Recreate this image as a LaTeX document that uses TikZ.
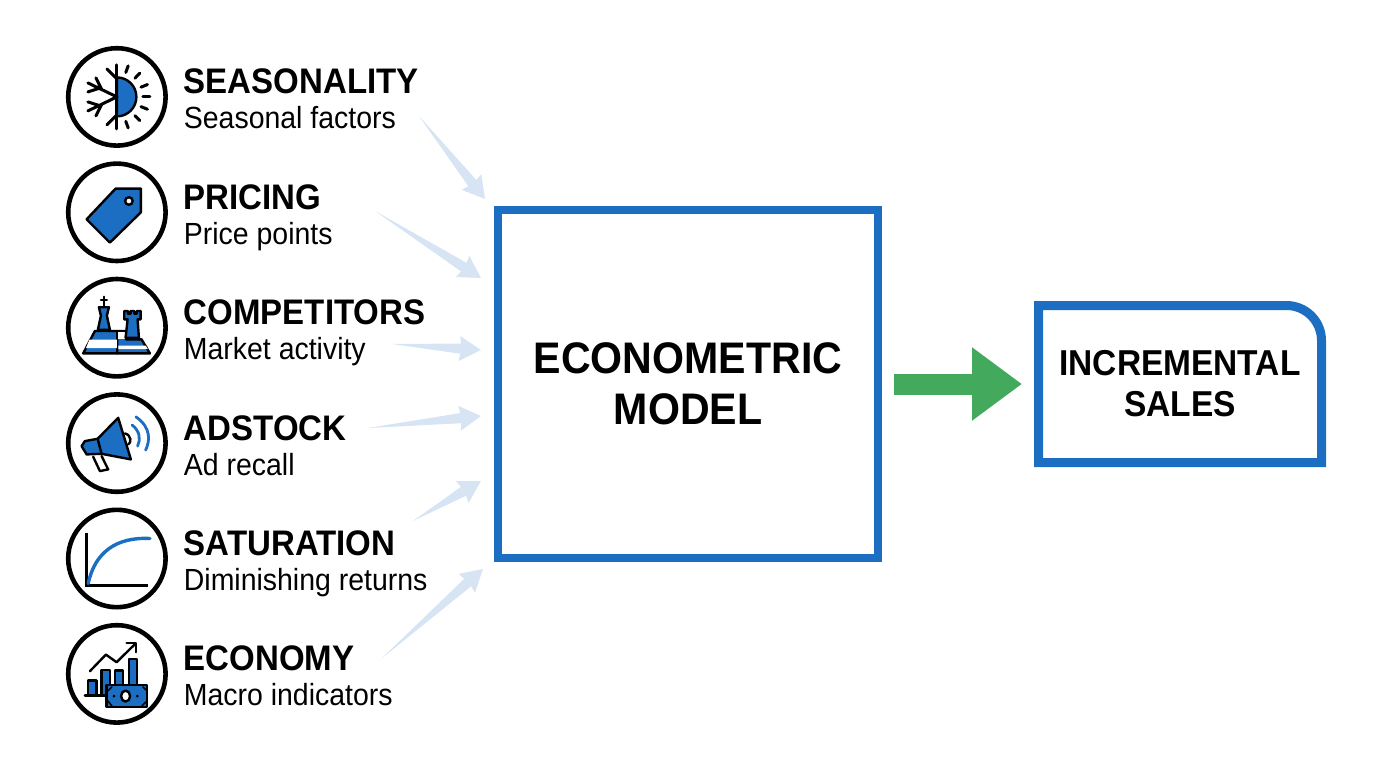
\documentclass[tikz,border=0pt]{standalone}
\usepackage{fontspec}
\setmainfont{Liberation Sans}[FakeStretch=0.93]
\usetikzlibrary{positioning}
\usetikzlibrary{calc}
\usetikzlibrary{arrows.meta}

\definecolor{modelblue}{HTML}{1B6EC2}
\definecolor{feedblue}{HTML}{D6E4F3}
\definecolor{salesgreen}{HTML}{43A95D}

\newcommand{\factorlabel}[2]{{\fontsize{35.5}{35}\selectfont\bfseries #1}\\#2}

\tikzset{
  ink/.style={draw=black,line width=2.4pt,line join=round,line cap=round},
  heavy/.style={ink,line width=3pt},
  paint/.style={ink,fill=modelblue},
  blank/.style={ink,fill=white},
  wave/.style={draw=modelblue,line width=2.8pt,line cap=round}
}

\newcommand{\iconseason}{
  \draw[paint] (0,-19.5) arc[start angle=-90,end angle=90,radius=19.5] -- cycle;
  \draw[heavy] (0,-32) -- (0,32);
  \foreach \a in {-70,-46,-22,0,22,46,70}
    \draw[heavy] (\a:26) -- (\a:33);
  \draw[heavy] (0,0) -- (-29,-14) (-18,-8.5) -- (-29,-5) (-15,-7) -- (-21,-19);
  \draw[heavy] (0,0) -- (-29,14) (-18,8.5) -- (-29,5) (-15,7) -- (-21,19);
  \draw[heavy] (-10,-28) -- (0,-18) (-10,28) -- (0,18);
}
\newcommand{\icontag}{
  \draw[paint] (-1.3,-23.7) -- (24,-23.7) -- (24,0) -- (-7,30.3) -- (-30.3,7) -- cycle;
  \draw[blank] (12,-11.3) circle (3.8);
}
\newcommand{\iconchess}{
  \draw[paint] (-22,3.3) -- (0.3,3.3) -- (0.3,25.7) -- (-33.7,25.7) -- cycle;
  \draw[paint] (0.3,3.3) -- (9,3.3) -- (9,11.7) -- (24.7,11.7) -- (33,25.7) -- (0.3,25.7) -- cycle;
  \fill[white] (-27.5,12) -- (0,12) -- (0,20.5) -- (-31,20.5) -- cycle;
  \fill[white] (1.5,18) -- (28.8,18) -- (31,21.5) -- (1.5,21.5) -- cycle;
  \fill[white] (1.5,4.5) -- (8,4.5) -- (8,11) -- (1.5,11) -- cycle;
  \draw[paint] (-18,-20.5) -- (-8,-20.5) -- (-10,-12) -- (-7,2) -- (-19,2) -- (-16,-12) -- cycle;
  \draw[ink] (-13,-31) -- (-13,-21) (-16,-28) -- (-10,-28);
  \draw[paint] (7.3,-16.7) -- (11,-16.7) -- (11,-14) -- (13.7,-14) -- (13.7,-16.7) -- (17.3,-16.7)
    -- (17.3,-14) -- (20,-14) -- (20,-16.7) -- (23.7,-16.7) -- (23.7,-8.3) -- (20.7,-8.3)
    -- (22,10) -- (8.7,10) -- (10.7,-8.3) -- (7.3,-8.3) -- cycle;
}
\newcommand{\iconhorn}{
  \draw[blank] (-23.7,13.7) -- (-17,28) -- (-8.7,26.3) -- (-15.3,13);
  \draw[ink] (8,-9.7) .. controls (14.7,-8) and (14.7,0) .. (11.3,1.3);
  \draw[paint] (1.3,-25.3) -- (14,16.3) -- (-15.3,10.7) -- (-30.3,11.3) -- (-35.3,3) -- (-32,-2) -- (-19.3,-4.3) -- cycle;
  \draw[ink] (-19.3,-4.3) -- (-15.3,10.7);
  \draw[wave] (15.3,-18) .. controls (23,-12) and (24,-3.7) .. (20.7,3);
  \draw[wave] (19,-26.3) .. controls (34.7,-15.3) and (33,-2) .. (28.7,7);
}
\newcommand{\iconcurve}{
  \draw[ink,line width=3pt,line cap=butt,line join=miter] (-30.3,-25.7) -- (-30.3,26.7) -- (31.3,26.7);
  \draw[wave,line width=3.4pt] (-28.7,25) .. controls (-22,-6.7) and (0,-21.7) .. (33,-20);
}
\newcommand{\iconmoney}{
  \draw[paint] (-28.7,6.7) rectangle (-20.3,21.7);
  \draw[paint] (-15.3,-4) rectangle (-7,21.7);
  \draw[paint] (-2,-3.3) rectangle (6.3,11.7);
  \draw[paint] (12,-15) rectangle (20.3,11.7);
  \draw[ink] (-32,21.7) -- (-10.3,21.7);
  \draw[paint] (-10.3,11) rectangle (30.3,33.3);
  \draw[blank] (8.7,22.2) ellipse (4.5 and 5.5);
  \fill (-3,22.2) circle (1.5) (20.4,22.2) circle (1.5);
  \draw[ink,line width=1.6pt] (-9,17) -- (-5,13) (26,13) -- (29,16) (-9,27) -- (-5,32) (25,32) -- (29,28);
  \draw[ink] (-27,-2.7) -- (-11,-19.3) -- (-0.3,-11.7) -- (18.5,-30.2);
  \draw[ink] (9.7,-30.7) -- (19,-30.7) -- (19,-21.7);
}

\begin{document}
\begin{tikzpicture}[
  x=1pt,y=-1pt,
  every matrix/.style={ampersand replacement=\&,column sep=16pt,row sep=13.4pt,inner sep=0pt},
  icon/.style={draw,circle,anchor=center,line width=4.6pt,minimum size=97.4pt,inner sep=0pt},
  factor/.style={anchor=west,align=left,inner sep=0pt,text height=80pt,text depth=16pt,font=\fontsize{30.6}{35}\selectfont},
  model/.style={draw=modelblue,line width=8pt,minimum width=380pt,minimum height=348pt,align=center},
  outcome/.style={minimum width=283pt,minimum height=157pt,align=center,outer sep=0pt},
  outcome-line/.style={draw=modelblue,line width=9pt,line join=miter},
  feed/.style={fill=feedblue,to path={
    -- ($(\tikztotarget)!21pt!14:(\tikztostart)$)
    -- ($(\tikztotarget)!25pt!30:(\tikztostart)$)
    -- (\tikztotarget)
    -- ($(\tikztotarget)!25pt!-30:(\tikztostart)$)
    -- ($(\tikztotarget)!21pt!-14:(\tikztostart)$)
    -- cycle}},
  result/.style={-{Triangle[length=50pt,width=70pt]},draw=salesgreen,fill=salesgreen,line width=21pt}]

  \useasboundingbox (0,0) rectangle (1376,768);

  % Factors: icon on the left, label on the right
  \matrix[anchor=north west] at (65.7,45.7) {
    \node[icon] (seasonality-icon) {}; \& \node[factor] (seasonality) {\factorlabel{SEASONALITY}{Seasonal factors}}; \\
    \node[icon] (pricing-icon) {}; \& \node[factor] (pricing) {\factorlabel{PRICING}{Price points}}; \\
    \node[icon] (competitors-icon) {}; \& \node[factor] (competitors) {\factorlabel{COMPETITORS}{Market activity}}; \\
    \node[icon] (adstock-icon) {}; \& \node[factor] (adstock) {\factorlabel{ADSTOCK}{Ad recall}}; \\
    \node[icon] (saturation-icon) {}; \& \node[factor] (saturation) {\factorlabel{SATURATION}{Diminishing returns}}; \\
    \node[icon] (economy-icon) {}; \& \node[factor] (economy) {\factorlabel{ECONOMY}{Macro indicators}}; \\
  };

  % Icons
  \begin{scope}[shift={(seasonality-icon.center)}] \iconseason \end{scope}
  \begin{scope}[shift={(pricing-icon.center)}] \icontag \end{scope}
  \begin{scope}[shift={(competitors-icon.center)}] \iconchess \end{scope}
  \begin{scope}[shift={(adstock-icon.center)}] \iconhorn \end{scope}
  \begin{scope}[shift={(saturation-icon.center)}] \iconcurve \end{scope}
  \begin{scope}[shift={(economy-icon.center)}] \iconmoney \end{scope}

  % Model and outcome
  \node[model,font=\fontsize{44.2}{51}\selectfont\bfseries] (model) at (688,384) {ECONOMETRIC\\MODEL};
  \node[outcome,font=\fontsize{36}{41}\selectfont\bfseries,right=156.5pt of model] (sales) {INCREMENTAL\\SALES};
  \draw[outcome-line] (sales.south west) -- (sales.north west)
    [rounded corners=35pt] -- (sales.north east) [sharp corners] -- (sales.south east) -- cycle;

  % Free ends of the feeds
  \coordinate (seasonality-tail) at (419,116);
  \coordinate (seasonality-tip) at (485,199);
  \coordinate (pricing-tail) at (375,211);
  \coordinate (pricing-tip) at (481,278);
  \coordinate (competitors-tail) at (392,344);
  \coordinate (competitors-tip) at (481,350);
  \coordinate (adstock-tail) at (368,428);
  \coordinate (adstock-tip) at (481,416);
  \coordinate (saturation-tail) at (413,521);
  \coordinate (saturation-tip) at (481,481);
  \coordinate (economy-tail) at (381,659);
  \coordinate (economy-tip) at (483,569);

  \foreach \name in {seasonality,pricing,competitors,adstock,saturation,economy}
    \fill[feed] (\name-tail) to (\name-tip);

  \draw[result,shorten <=12pt,shorten >=16.5pt] (model.east) -- (sales.west);
\end{tikzpicture}
\end{document}
